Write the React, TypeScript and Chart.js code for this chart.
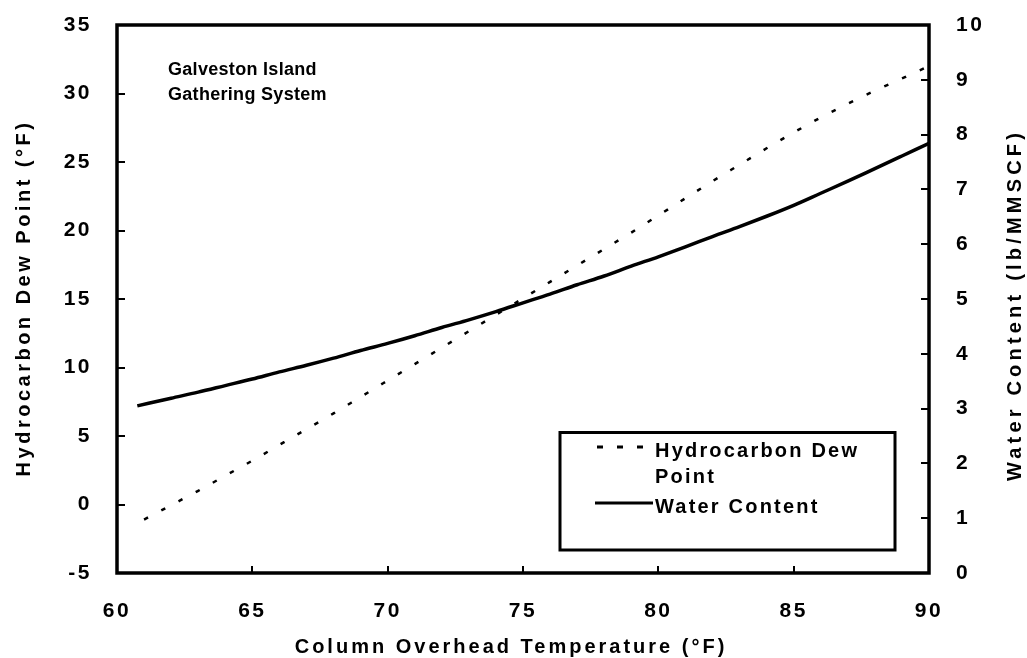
import React, { useEffect, useRef } from "react";
import { Chart, registerables } from "chart.js";

Chart.register(...registerables);

// ---- data ----
const dewTemps = [61, 62, 63, 64, 65, 66, 67, 68, 69, 70, 71, 72, 73, 74, 75, 76, 77, 78, 79, 80, 81, 82, 83, 84, 85, 86, 87, 88, 89, 90];
const dewPoint = [-1.1, -0.05, 1.0, 2.1, 3.2, 4.35, 5.5, 6.65, 7.85, 9.05, 10.25, 11.45, 12.65, 13.85, 15.05, 16.25, 17.45, 18.65, 19.85, 21.1, 22.35, 23.6, 24.8, 26.0, 27.15, 28.25, 29.25, 30.2, 31.1, 32.0];
const waterTemps = [60.75, 62, 63, 64, 65, 66, 67, 68, 69, 70, 71, 72, 73, 74, 75, 76, 77, 78, 79, 80, 81, 82, 83, 84, 85, 86, 87, 88, 89, 90];
const waterContent = [3.05, 3.19, 3.3, 3.42, 3.54, 3.67, 3.79, 3.92, 4.06, 4.19, 4.33, 4.48, 4.62, 4.77, 4.93, 5.09, 5.26, 5.42, 5.6, 5.77, 5.95, 6.14, 6.32, 6.51, 6.71, 6.93, 7.15, 7.38, 7.61, 7.84];

const xTickValues = [60, 65, 70, 75, 80, 85, 90];
const leftTickValues = [-5, 0, 5, 10, 15, 20, 25, 30, 35];
const rightTickValues = [0, 1, 2, 3, 4, 5, 6, 7, 8, 9, 10];

const seriesLabels = ["Hydrocarbon Dew Point", "Water Content"];
const legendDewLines = ["Hydrocarbon Dew", "Point"];
const xTitle = "Column Overhead Temperature (°F)";
const leftTitle = "Hydrocarbon Dew Point (°F)";
const rightTitle = "Water Content (lb/MMSCF)";
const noteLines = ["Galveston Island", "Gathering System"];

const FAMILY = "'Liberation Sans', Arial, sans-serif";

const decorPlugin = {
  id: "decor",
  beforeDraw(chart: any) {
    const ctx = chart.ctx;
    ctx.save();
    ctx.fillStyle = "#fff";
    ctx.fillRect(0, 0, chart.width, chart.height);
    ctx.restore();
    ctx.letterSpacing = "2.5px";
  },
  afterDraw(chart: any) {
    const ctx = chart.ctx;
    const ca = chart.chartArea;
    const xs = chart.scales.x;
    const yl = chart.scales.y;
    const yr = chart.scales.y2;
    ctx.save();
    ctx.strokeStyle = "#000";
    ctx.fillStyle = "#000";

    // frame
    ctx.lineWidth = 3.5;
    ctx.setLineDash([]);
    ctx.strokeRect(ca.left, ca.top, ca.right - ca.left, ca.bottom - ca.top);

    // inward ticks
    ctx.lineWidth = 2;
    ctx.beginPath();
    for (const v of leftTickValues) {
      const p = Math.round(yl.getPixelForValue(v));
      ctx.moveTo(ca.left, p);
      ctx.lineTo(ca.left + 8, p);
    }
    for (const v of rightTickValues) {
      const p = Math.round(yr.getPixelForValue(v));
      ctx.moveTo(ca.right, p);
      ctx.lineTo(ca.right - 8, p);
    }
    for (const v of xTickValues) {
      const p = Math.round(xs.getPixelForValue(v));
      ctx.moveTo(p, ca.bottom);
      ctx.lineTo(p, ca.bottom - 7);
    }
    ctx.stroke();

    // titles
    ctx.font = `bold 20px ${FAMILY}`;
    ctx.textAlign = "center";
    ctx.textBaseline = "middle";
    ctx.letterSpacing = "3px";
    ctx.fillText(xTitle, 511, 647);

    ctx.letterSpacing = "3.5px";
    ctx.save();
    ctx.translate(24, 298);
    ctx.rotate(-Math.PI / 2);
    ctx.fillText(leftTitle, 0, 0);
    ctx.restore();

    ctx.letterSpacing = "4.2px";
    ctx.save();
    ctx.translate(1015, 305);
    ctx.rotate(-Math.PI / 2);
    ctx.fillText(rightTitle, 0, 0);
    ctx.restore();

    // note
    ctx.font = `bold 18px ${FAMILY}`;
    ctx.letterSpacing = "0.3px";
    ctx.textAlign = "left";
    ctx.textBaseline = "alphabetic";
    ctx.fillText(noteLines[0], 168, 75);
    ctx.fillText(noteLines[1], 168, 100);

    // legend
    ctx.fillStyle = "#fff";
    ctx.fillRect(560, 432.5, 335, 117.5);
    ctx.fillStyle = "#000";
    ctx.lineWidth = 3;
    ctx.strokeRect(560, 432.5, 335, 117.5);

    const ds0 = chart.data.datasets[0];
    const ds1 = chart.data.datasets[1];
    ctx.lineWidth = 3;
    ctx.setLineDash([6, 14]);
    ctx.beginPath();
    ctx.moveTo(597, 447);
    ctx.lineTo(645, 447);
    ctx.strokeStyle = ds0.borderColor;
    ctx.stroke();
    ctx.setLineDash([]);
    ctx.beginPath();
    ctx.moveTo(595, 503);
    ctx.lineTo(653, 503);
    ctx.strokeStyle = ds1.borderColor;
    ctx.stroke();

    ctx.font = `bold 20px ${FAMILY}`;
    ctx.letterSpacing = "2.2px";
    ctx.fillText(legendDewLines[0], 655, 457);
    ctx.fillText(legendDewLines[1], 655, 483);
    ctx.fillText(ds1.label, 655, 513);
    ctx.restore();
  },
};

const clearPad = (s: any) => {
  s.paddingTop = 0;
  s.paddingBottom = 0;
  s.paddingLeft = 0;
  s.paddingRight = 0;
};

export default function App() {
  const canvasRef = useRef<HTMLCanvasElement | null>(null);

  useEffect(() => {
    document.body.style.margin = "0";
    const canvas = canvasRef.current;
    if (!canvas) return;
    const tickFont = { family: FAMILY, size: 21, weight: "bold" as const };
    const chart = new Chart(canvas, {
      type: "line",
      data: {
        datasets: [
          {
            label: seriesLabels[0],
            data: dewTemps.map((t, i) => ({ x: t, y: dewPoint[i] })),
            yAxisID: "y",
            borderColor: "#000",
            borderWidth: 2.5,
            borderDash: [4.5, 15],
            borderCapStyle: "butt",
            pointRadius: 0,
            fill: false,
            cubicInterpolationMode: "monotone",
          },
          {
            label: seriesLabels[1],
            data: waterTemps.map((t, i) => ({ x: t, y: waterContent[i] })),
            yAxisID: "y2",
            borderColor: "#000",
            borderWidth: 3.5,
            pointRadius: 0,
            fill: false,
            cubicInterpolationMode: "monotone",
          },
        ],
      },
      options: {
        animation: false,
        responsive: true,
        maintainAspectRatio: false,
        layout: { padding: { top: 25, left: 0, right: 0, bottom: 0 } },
        plugins: {
          legend: { display: false },
          tooltip: { enabled: false },
          title: { display: false },
        },
        scales: {
          x: {
            type: "linear",
            min: 60,
            max: 90,
            grid: { display: false },
            border: { display: false },
            ticks: { stepSize: 5, font: tickFont, color: "#000", padding: 18, maxRotation: 0 },
            afterBuildTicks: (s: any) => {
              s.ticks = xTickValues.map((v) => ({ value: v }));
            },
            afterFit: (s: any) => {
              s.height = 85;
              clearPad(s);
            },
          },
          y: {
            type: "linear",
            position: "left",
            min: -5,
            max: 35,
            grid: { display: false },
            border: { display: false },
            ticks: { stepSize: 5, font: tickFont, color: "#000", padding: 17 },
            afterBuildTicks: (s: any) => {
              s.ticks = leftTickValues.map((v) => ({ value: v }));
            },
            afterFit: (s: any) => {
              s.width = 117;
              clearPad(s);
            },
          },
          y2: {
            type: "linear",
            position: "right",
            min: 0,
            max: 10,
            grid: { display: false },
            border: { display: false },
            ticks: { stepSize: 1, font: tickFont, color: "#000", padding: 19 },
            afterBuildTicks: (s: any) => {
              s.ticks = rightTickValues.map((v) => ({ value: v }));
            },
            afterFit: (s: any) => {
              s.width = 98;
              clearPad(s);
            },
          },
        },
      },
      plugins: [decorPlugin],
    } as any);
    return () => chart.destroy();
  }, []);

  return (
    <div style={{ position: "absolute", left: 0, top: 0, width: 1027, height: 658 }}>
      <canvas ref={canvasRef} />
    </div>
  );
}
